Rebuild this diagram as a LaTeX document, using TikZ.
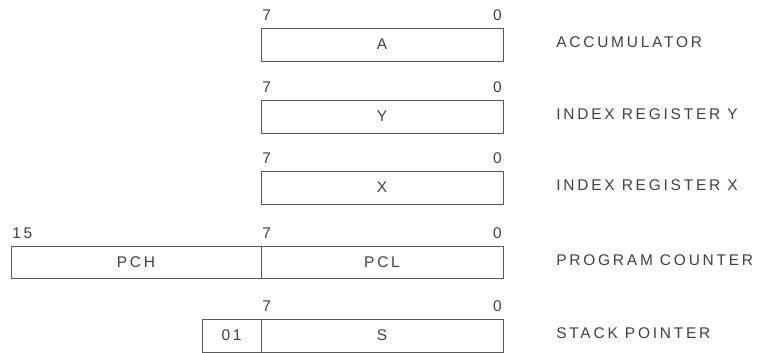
\documentclass[tikz,border=0pt]{standalone}
\usepackage{fontspec}
\setmainfont{Liberation Sans}
\newfontfamily\regfont[LetterSpace=18]{Liberation Sans}
\usetikzlibrary{positioning}

\begin{document}
\begin{tikzpicture}[
    x=0.025cm, y=-0.025cm,
    reg/.style={rectangle, draw=black!65, line width=0.6pt, inner sep=0pt, minimum height=0.825cm, font=\regfont\fontsize{11}{13}\selectfont, text=black!75},
    bitnum/.style={inner sep=0pt, font=\regfont\fontsize{11}{13}\selectfont, text=black!75},
    regname/.style={inner sep=0pt, anchor=west, font=\regfont\fontsize{11}{13}\selectfont, text=black!75}
]
\useasboundingbox (0,0) rectangle (771,353);

% Accumulator
\node[reg, minimum width=6.05cm] (A) at (382,44.5) {A};
\node[bitnum, anchor=base west] (a7) at (262,20.5) {7};
\node[bitnum, anchor=base east] (a0) at (502,20.5) {0};
\node[regname] (accname) at (556,42.5) {ACCUMULATOR};

% Index register Y
\node[reg, minimum width=6.05cm] (Y) at (382,116.5) {Y};
\node[bitnum, anchor=base west] (y7) at (262,92.5) {7};
\node[bitnum, anchor=base east] (y0) at (502,92.5) {0};
\node[regname] (yname) at (556,114.5) {INDEX REGISTER Y};

% Index register X
\node[reg, minimum width=6.05cm] (X) at (382,187.5) {X};
\node[bitnum, anchor=base west] (x7) at (262,163.5) {7};
\node[bitnum, anchor=base east] (x0) at (502,163.5) {0};
\node[regname] (xname) at (556,185.5) {INDEX REGISTER X};

% Program counter
\node[reg, minimum width=6.25cm, minimum height=0.8cm] (PCH) at (136,262) {PCH};
\node[reg, minimum width=6.05cm, minimum height=0.8cm] (PCL) at (382,262) {PCL};
\node[bitnum, anchor=base west] (p15) at (12,239) {15};
\node[bitnum, anchor=base west] (p7) at (262,239) {7};
\node[bitnum, anchor=base east] (p0) at (502,239) {0};
\node[regname] (pcname) at (556,260) {PROGRAM COUNTER};

% Stack pointer
\node[reg, minimum width=1.475cm] (sp01) at (231.5,335.5) {01};
\node[reg, minimum width=6.05cm] (S) at (382,335.5) {S};
\node[bitnum, anchor=base west] (s7) at (262,311.5) {7};
\node[bitnum, anchor=base east] (s0) at (502,311.5) {0};
\node[regname] (spname) at (556,333.5) {STACK POINTER};

\end{tikzpicture}
\end{document}
